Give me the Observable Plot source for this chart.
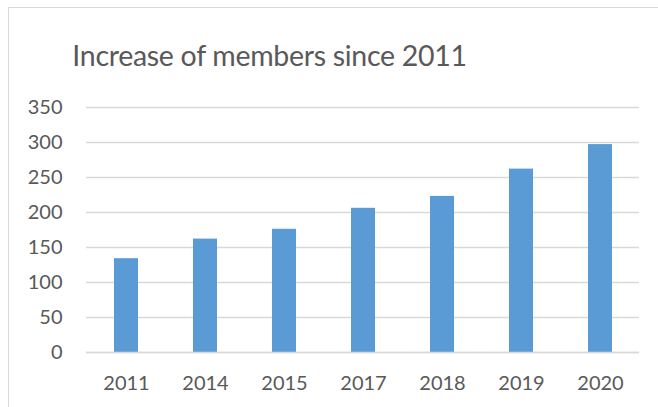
<!DOCTYPE html>
<html>
<head>
<meta charset="utf-8">
<script src="https://cdn.jsdelivr.net/npm/d3@7"></script>
<script src="https://cdn.jsdelivr.net/npm/@observablehq/plot@0.6"></script>
<style>
  html, body { margin: 0; padding: 0; background: #fff; }
  #wrap { position: relative; width: 658px; height: 407px; overflow: hidden; font-family: Lato, "Open Sans", sans-serif; }
  #frame { position: absolute; left: 8px; top: 7px; width: 700px; height: 420px; border: 1.5px solid #d9d9d9; box-sizing: border-box; }
  #title { position: absolute; left: 0; top: 9px; width: 539px; height: 80px; line-height: 92px; text-align: center; font-size: 28.5px; letter-spacing: -0.3px; color: #595959; }
  #chart { position: absolute; left: 0; top: 90px; }
</style>
</head>
<body>
<div id="wrap">
  <div id="frame"></div>
  <div id="title">Increase of members since 2011</div>
  <div id="chart"></div>
</div>
<script>
const years = ["2011", "2014", "2015", "2017", "2018", "2019", "2020"];
const members = [134, 162, 176, 206, 223, 262, 297];
const yTicks = [0, 50, 100, 150, 200, 250, 300, 350];

const data = years.map((y, i) => ({year: y, value: members[i]}));

const chart = Plot.plot({
  width: 658,
  height: 317,
  marginTop: 17,
  marginBottom: 55,
  marginLeft: 86,
  marginRight: 19,
  style: {fontFamily: "Lato, 'Open Sans', sans-serif", fontSize: "20px", color: "#595959", background: "transparent"},
  x: {domain: years, paddingInner: 0.7, paddingOuter: 0.35, label: null, tickSize: 0, tickPadding: 23},
  y: {domain: [0, 350], ticks: yTicks, label: null, tickSize: 0, tickPadding: 24},
  marks: [
    Plot.gridY(yTicks, {stroke: "#d9d9d9", strokeOpacity: 1, strokeWidth: 1.3}),
    Plot.barY(data, {x: "year", y: "value", fill: "#5b9bd5"}),
    Plot.ruleY([0], {stroke: "#d9d9d9", strokeWidth: 1.3})
  ]
});
document.getElementById("chart").appendChild(chart);
</script>
</body>
</html>
